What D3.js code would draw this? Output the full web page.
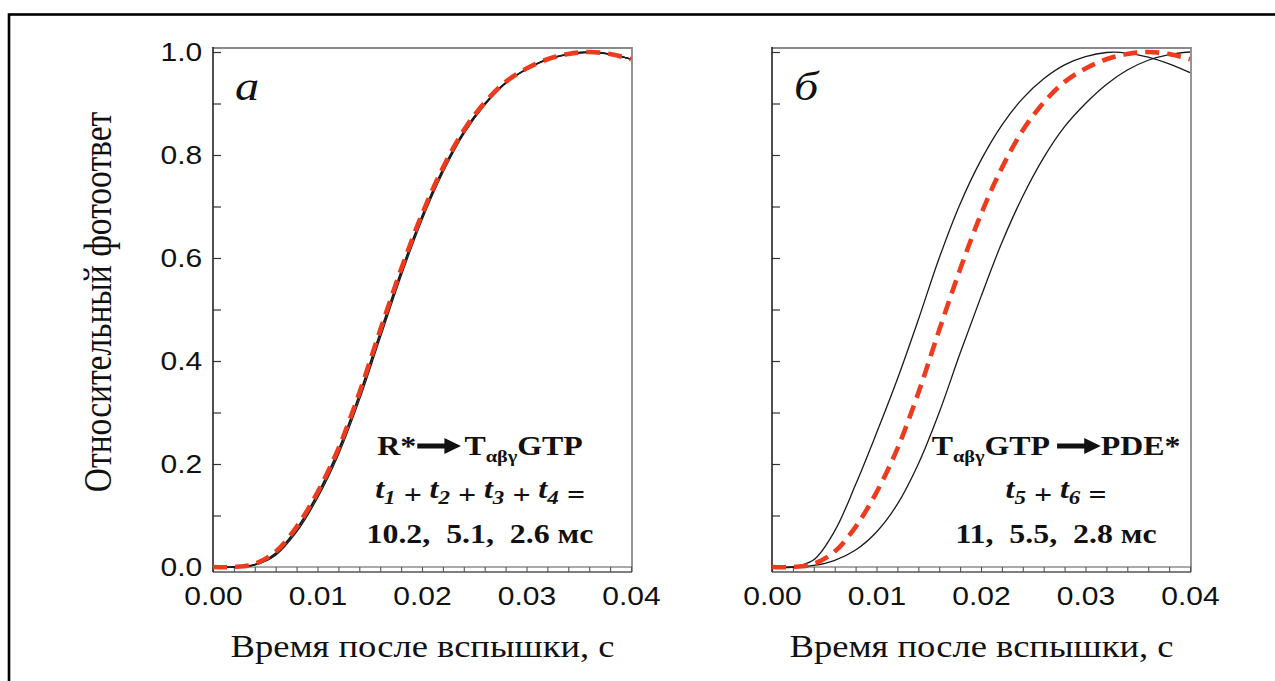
<!DOCTYPE html>
<html>
<head>
<meta charset="utf-8">
<script src="https://cdn.jsdelivr.net/npm/d3@7"></script>
<style>
  html, body { margin: 0; padding: 0; background: #fff; }
  svg { display: block; }
</style>
</head>
<body>
<svg id="chart" width="1275" height="681"></svg>
<script>
// Time after the flash, s
const time = [0, 0.002, 0.004, 0.006, 0.008, 0.010, 0.012, 0.014, 0.016, 0.018, 0.020,
              0.022, 0.024, 0.026, 0.028, 0.030, 0.032, 0.034, 0.036, 0.038, 0.040];

// Normalised photoresponse used as the reference (red dashed, both panels)
const referenceResponse = [0, 0, 0.006, 0.03, 0.078, 0.145, 0.23, 0.338, 0.46, 0.578, 0.685,
                           0.775, 0.848, 0.902, 0.942, 0.968, 0.986, 0.996, 1.0, 0.996, 0.986];

// Panel а: R* -> TαβγGTP, t1+t2+t3+t4 = 10.2, 5.1, 2.6 ms
const panelA_10_2 = [0, 0, 0.004, 0.025, 0.072, 0.139, 0.224, 0.331, 0.452, 0.571, 0.679,
                     0.77, 0.844, 0.899, 0.94, 0.967, 0.985, 0.996, 1.0, 0.996, 0.986];
const panelA_5_1  = [0, 0, 0.004, 0.023, 0.068, 0.134, 0.218, 0.324, 0.445, 0.565, 0.674,
                     0.766, 0.841, 0.897, 0.939, 0.966, 0.985, 0.995, 0.999, 0.996, 0.986];
const panelA_2_6  = [0, 0, 0.005, 0.027, 0.075, 0.142, 0.228, 0.335, 0.456, 0.575, 0.682,
                     0.773, 0.846, 0.9, 0.941, 0.967, 0.986, 0.996, 1.0, 0.996, 0.986];

// Panel б: TαβγGTP -> PDE*, t5+t6 = 11, 5.5, 2.8 ms (outer curves)
const panelB_fast = [0, 0, 0.014, 0.07, 0.16, 0.26, 0.365, 0.48, 0.6, 0.705, 0.79,
                     0.858, 0.91, 0.948, 0.975, 0.991, 0.999, 0.998, 0.99, 0.977, 0.96];
const panelB_slow = [0, 0, 0.003, 0.013, 0.033, 0.068, 0.122, 0.2, 0.3, 0.415, 0.525,
                     0.63, 0.72, 0.795, 0.855, 0.9, 0.937, 0.965, 0.984, 0.995, 1.0];

// Axis ticks
const yTickValues = [0, 0.1, 0.2, 0.3, 0.4, 0.5, 0.6, 0.7, 0.8, 0.9, 1.0];
const yTickLabels = ["0.0", "0.2", "0.4", "0.6", "0.8", "1.0"];
const xTickValues = [0, 0.002, 0.004, 0.006, 0.008, 0.010, 0.012, 0.014, 0.016, 0.018, 0.020,
                     0.022, 0.024, 0.026, 0.028, 0.030, 0.032, 0.034, 0.036, 0.038, 0.040];
const xTickLabels = ["0.00", "0.01", "0.02", "0.03", "0.04"];

// Text
const yTitle = "Относительный фотоответ";
const xTitle = "Время после вспышки, с";

// ---------------------------------------------------------------------------
const SX = 1.18;                    // horizontal widening of the lettering
const SANS = "'Liberation Sans', Arial, sans-serif";
const SERIF = "'Liberation Serif', 'Times New Roman', serif";
const FRAME_TOP = 48, FRAME_BOTTOM = 572;
const RED = "#ee3b1d", INK = "#1a1a1a";

const svg = d3.select("#chart");
svg.append("rect").attr("width", 1275).attr("height", 681).attr("fill", "#fff");
// outer border of the figure
svg.append("rect")
  .attr("x", 9).attr("y", 14.5).attr("width", 1300).attr("height", 720)
  .attr("fill", "none").attr("stroke", "#000").attr("stroke-width", 2.6);

const y = d3.scaleLinear().domain([0, 1]).range([567, 52]);

const panels = [
  {
    x0: 213, x1: 632, letter: "а", showYLabels: true,
    solid: [panelA_10_2, panelA_5_1, panelA_2_6],
    cx: 480,
    arrowLeft: [{t: "R*"}], arrowRight: [{t: "T"}, {t: "αβγ", sub: true}, {t: "GTP"}],
    gapL: 1, gapR: 3,
    sum: [["t", "1"], ["t", "2"], ["t", "3"], ["t", "4"]],
    values: "10.2,  5.1,  2.6 мс"
  },
  {
    x0: 772, x1: 1191, letter: "б", showYLabels: false,
    solid: [panelB_fast, panelB_slow],
    cx: 1056,
    arrowLeft: [{t: "T"}, {t: "αβγ", sub: true}, {t: "GTP"}], arrowRight: [{t: "PDE*"}],
    gapL: 6, gapR: 0,
    sum: [["t", "5"], ["t", "6"]],
    values: "11,  5.5,  2.8 мс"
  }
];

function addParts(textSel, parts, size) {
  parts.forEach((p, i) => {
    const ts = textSel.append("tspan").text(p.t);
    if (p.sub) ts.attr("font-size", size * 0.64).attr("dy", 7);
    else if (i > 0 && parts[i - 1].sub) ts.attr("dy", -7);
  });
}

panels.forEach(p => {
  const x = d3.scaleLinear().domain([0, 0.04]).range([p.x0, p.x1 - 1]);
  const g = svg.append("g");

  // top and right edges of the plot box
  g.append("path")
    .attr("d", `M${p.x0},${FRAME_TOP}H${p.x1}V${FRAME_BOTTOM}`)
    .attr("fill", "none").attr("stroke", "#8a8a8a").attr("stroke-width", 1.8);

  // zero line above the tick strip
  g.append("line")
    .attr("x1", p.x0).attr("x2", p.x1).attr("y1", y(0)).attr("y2", y(0))
    .attr("stroke", "#555").attr("stroke-width", 1.2);

  // bottom axis: ticks sit in the strip under the zero line
  const xAxis = d3.axisBottom(x)
    .tickValues(xTickValues)
    .tickSize(-(FRAME_BOTTOM - y(0)))
    .tickSizeOuter(0)
    .tickPadding(15)
    .tickFormat((d, i) => (i % 5 === 0 ? xTickLabels[i / 5] : ""));
  const gx = g.append("g").attr("transform", `translate(0,${FRAME_BOTTOM})`).call(xAxis);
  gx.select(".domain").attr("stroke", "#555").attr("stroke-width", 1.4)
    .attr("d", `M${p.x0},0H${p.x1}`);
  gx.selectAll(".tick line").attr("stroke", "#555").attr("stroke-width", 1.1);
  gx.selectAll(".tick text")
    .attr("font-family", SANS).attr("font-size", 25).attr("fill", "#111")
    .attr("transform", `scale(1.2,1)`);

  // left axis with inward ticks
  const yAxis = d3.axisLeft(y)
    .tickValues(yTickValues)
    .tickSize(-8)
    .tickSizeOuter(0)
    .tickPadding(9)
    .tickFormat((d, i) => (p.showYLabels && i % 2 === 0 ? yTickLabels[i / 2] : ""));
  const gy = g.append("g").attr("transform", `translate(${p.x0},0)`).call(yAxis);
  gy.select(".domain").remove();
  gy.selectAll(".tick line").attr("stroke", "#333").attr("stroke-width", 1.2);
  gy.selectAll(".tick text")
    .attr("font-family", SANS).attr("font-size", 25).attr("fill", "#111")
    .attr("transform", `scale(1.2,1)`);
  g.append("line")
    .attr("x1", p.x0).attr("x2", p.x0).attr("y1", FRAME_TOP - 1).attr("y2", FRAME_BOTTOM)
    .attr("stroke", "#222").attr("stroke-width", 1.6);

  // curves
  const line = d3.line()
    .x((d, i) => x(time[i]))
    .y(d => y(d))
    .curve(d3.curveCatmullRom.alpha(0.5));

  p.solid.forEach(series => {
    g.append("path").datum(series)
      .attr("d", line)
      .attr("fill", "none").attr("stroke", INK).attr("stroke-width", 1.3);
  });
  g.append("path").datum(referenceResponse)
    .attr("d", line)
    .attr("fill", "none").attr("stroke", RED).attr("stroke-width", 4.6)
    .attr("stroke-dasharray", "14,8");

  // panel letter
  g.append("text")
    .attr("transform", `translate(${p.x0 + 22},${FRAME_TOP + 52}) scale(${SX},1)`)
    .attr("font-family", SERIF).attr("font-style", "italic").attr("font-size", 41)
    .attr("fill", "#111").text(p.letter);

  // reaction line with arrow
  const FS = 27;
  const rg = g.append("g").attr("transform", `translate(${p.cx},455) scale(${SX},1)`)
    .attr("font-family", SERIF).attr("font-weight", "bold").attr("font-size", FS).attr("fill", "#111");
  const lt = rg.append("text");
  addParts(lt, p.arrowLeft, FS);
  const rt = rg.append("text");
  addParts(rt, p.arrowRight, FS);
  const wL = lt.node().getComputedTextLength();
  const wR = rt.node().getComputedTextLength();
  const A = 37;
  const total = wL + p.gapL + A + p.gapR + wR;
  const sx0 = -total / 2;
  lt.attr("x", sx0);
  const ax0 = sx0 + wL + p.gapL, ax1 = ax0 + A;
  rt.attr("x", ax1 + p.gapR);
  const ay = -9;
  rg.append("path")
    .attr("d", `M${ax0},${ay - 2.5}H${ax1 - 14}V${ay - 8}L${ax1},${ay}L${ax1 - 14},${ay + 8}V${ay + 2.5}H${ax0}Z`)
    .attr("fill", "#111");

  // sum of stage times
  const st = g.append("text")
    .attr("transform", `translate(${p.cx},498) scale(${SX},1)`)
    .attr("text-anchor", "middle")
    .attr("font-family", SERIF).attr("font-weight", "bold").attr("font-style", "italic")
    .attr("font-size", FS).attr("fill", "#111");
  p.sum.forEach((pair, i) => {
    st.append("tspan").text(pair[0]).attr("dy", i === 0 ? 0 : -6);
    st.append("tspan").text(pair[1]).attr("font-size", FS * 0.72).attr("dy", 6);
    st.append("tspan").text(i < p.sum.length - 1 ? " + " : " =").attr("dy", 0);
  });

  // stage time values
  g.append("text")
    .attr("transform", `translate(${p.cx},543) scale(${SX},1)`)
    .attr("text-anchor", "middle").style("white-space", "pre")
    .attr("font-family", SERIF).attr("font-weight", "bold").attr("font-size", FS)
    .attr("fill", "#111").text(p.values);

  // x-axis title
  g.append("text")
    .attr("transform", `translate(${(p.x0 + p.x1) / 2},657) scale(${SX},1)`)
    .attr("text-anchor", "middle")
    .attr("font-family", SERIF).attr("font-size", 31).attr("fill", "#111")
    .text(xTitle);
});

// y-axis title
svg.append("text")
  .attr("transform", `translate(111,302) scale(${SX},1) rotate(-90)`)
  .attr("text-anchor", "middle")
  .attr("font-family", SERIF).attr("font-size", 33.5).attr("fill", "#111")
  .text(yTitle);
</script>
</body>
</html>
